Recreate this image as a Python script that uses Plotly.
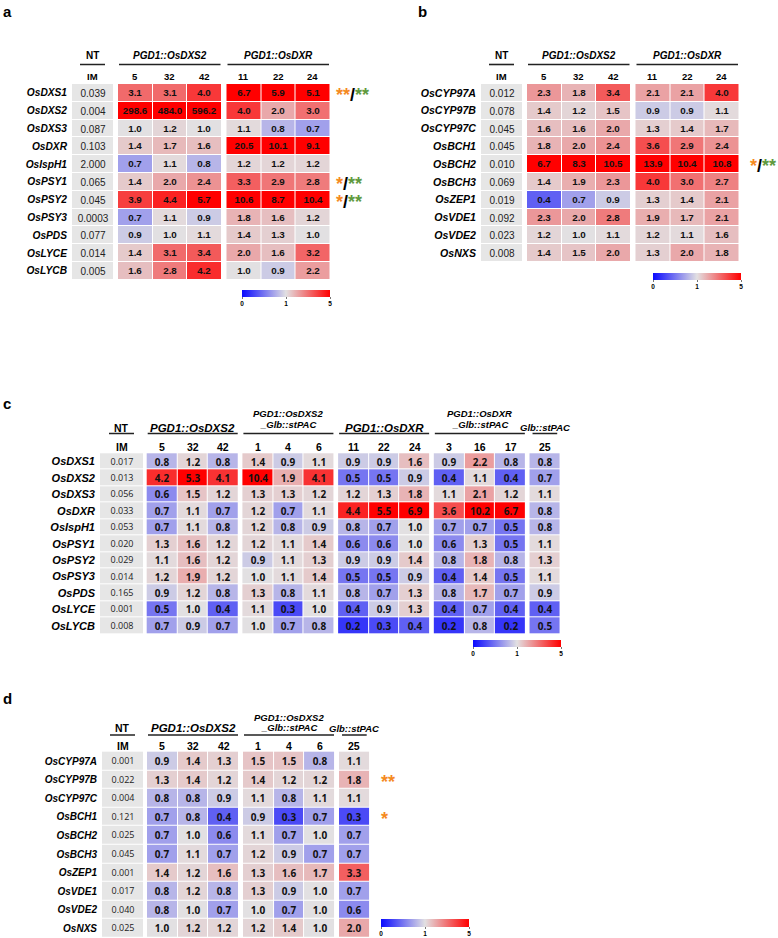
import plotly.graph_objects as go

W, H = 778, 938

# ===================== DATA =====================
# ---- panel a ----
a_genes = ["OsDXS1", "OsDXS2", "OsDXS3", "OsDXR", "OsIspH1", "OsPSY1",
           "OsPSY2", "OsPSY3", "OsPDS", "OsLYCE", "OsLYCB"]
a_nt_im = [0.039, 0.004, 0.087, 0.103, 2.000, 0.065, 0.045, 0.0003, 0.077, 0.014, 0.005]
a_dxs2_lines = ["5", "32", "42"]
a_dxs2 = [[3.1, 3.1, 4.0], [298.6, 484.0, 596.2], [1.0, 1.2, 1.0], [1.4, 1.7, 1.6],
          [0.7, 1.1, 0.8], [1.4, 2.0, 2.4], [3.9, 4.4, 5.7], [0.7, 1.1, 0.9],
          [0.9, 1.0, 1.1], [1.4, 3.1, 3.4], [1.6, 2.8, 4.2]]
a_dxr_lines = ["11", "22", "24"]
a_dxr = [[6.7, 5.9, 5.1], [4.0, 2.0, 3.0], [1.1, 0.8, 0.7], [20.5, 10.1, 9.1],
         [1.2, 1.2, 1.2], [3.3, 2.9, 2.8], [10.6, 8.7, 10.4], [1.8, 1.6, 1.2],
         [1.4, 1.3, 1.0], [2.0, 1.6, 3.2], [1.0, 0.9, 2.2]]
a_stars = {0: ("**", "**"), 5: ("*", "**"), 6: ("*", "**")}

# ---- panel b ----
b_genes = ["OsCYP97A", "OsCYP97B", "OsCYP97C", "OsBCH1", "OsBCH2", "OsBCH3",
           "OsZEP1", "OsVDE1", "OsVDE2", "OsNXS"]
b_nt_im = [0.012, 0.078, 0.045, 0.045, 0.010, 0.069, 0.019, 0.092, 0.023, 0.008]
b_dxs2_lines = ["5", "32", "42"]
b_dxs2 = [[2.3, 1.8, 3.4], [1.4, 1.2, 1.5], [1.6, 1.6, 2.0], [1.8, 2.0, 2.4],
          [6.7, 8.3, 10.5], [1.4, 1.9, 2.3], [0.4, 0.7, 0.9], [2.3, 2.0, 2.8],
          [1.2, 1.0, 1.1], [1.4, 1.5, 2.0]]
b_dxr_lines = ["11", "22", "24"]
b_dxr = [[2.1, 2.1, 4.0], [0.9, 0.9, 1.1], [1.3, 1.4, 1.7], [3.6, 2.9, 2.4],
         [13.9, 10.4, 10.8], [4.0, 3.0, 2.7], [1.3, 1.4, 2.1], [1.9, 1.7, 2.1],
         [1.2, 1.1, 1.6], [1.3, 2.0, 1.8]]
b_stars = {4: ("*", "**")}

# ---- panel c ----
c_genes = a_genes
c_nt_im = [0.017, 0.013, 0.056, 0.033, 0.053, 0.020, 0.029, 0.014, 0.165, 0.001, 0.008]
c_dxs2_lines = ["5", "32", "42"]
c_dxs2 = [[0.8, 1.2, 0.8], [4.2, 5.3, 4.1], [0.6, 1.5, 1.2], [0.7, 1.1, 0.7],
          [0.7, 1.1, 0.8], [1.3, 1.6, 1.2], [1.1, 1.6, 1.2], [1.2, 1.9, 1.2],
          [0.9, 1.2, 0.8], [0.5, 1.0, 0.4], [0.7, 0.9, 0.7]]
c_dxs2pac_lines = ["1", "4", "6"]
c_dxs2pac = [[1.4, 0.9, 1.1], [10.4, 1.9, 4.1], [1.3, 1.3, 1.2], [1.2, 0.7, 1.1],
             [1.2, 0.8, 0.9], [1.2, 1.1, 1.4], [0.9, 1.1, 1.3], [1.0, 1.1, 1.4],
             [1.3, 0.8, 1.1], [1.1, 0.3, 1.0], [1.0, 0.7, 0.8]]
c_dxr_lines = ["11", "22", "24"]
c_dxr = [[0.9, 0.9, 1.6], [0.5, 0.5, 0.9], [1.2, 1.3, 1.8], [4.4, 5.5, 6.9],
         [0.8, 0.7, 1.0], [0.6, 0.6, 1.0], [0.9, 0.9, 1.4], [0.5, 0.5, 0.9],
         [0.8, 0.7, 1.3], [0.4, 0.9, 1.3], [0.2, 0.3, 0.4]]
c_dxrpac_lines = ["3", "16", "17"]
c_dxrpac = [[0.9, 2.2, 0.8], [0.4, 1.1, 0.4], [1.1, 2.1, 1.2], [3.6, 10.2, 6.7],
            [0.7, 0.7, 0.5], [0.6, 1.3, 0.5], [0.8, 1.8, 0.8], [0.4, 1.4, 0.5],
            [0.8, 1.7, 0.7], [0.4, 0.7, 0.4], [0.2, 0.8, 0.2]]
c_pac_lines = ["25"]
c_pac = [[0.8], [0.7], [1.1], [0.8], [0.8], [1.1], [1.3], [1.1], [0.9], [0.4], [0.5]]

# ---- panel d ----
d_genes = b_genes
d_nt_im = [0.001, 0.022, 0.004, 0.121, 0.025, 0.045, 0.001, 0.017, 0.040, 0.025]
d_dxs2_lines = ["5", "32", "42"]
d_dxs2 = [[0.9, 1.4, 1.3], [1.3, 1.4, 1.2], [0.8, 0.8, 0.9], [0.7, 0.8, 0.4],
          [0.7, 1.0, 0.6], [0.7, 1.1, 0.7], [1.4, 1.2, 1.6], [0.8, 1.2, 0.8],
          [0.8, 1.0, 0.7], [1.0, 1.2, 1.2]]
d_dxs2pac_lines = ["1", "4", "6"]
d_dxs2pac = [[1.5, 1.5, 0.8], [1.4, 1.2, 1.2], [1.1, 0.8, 1.1], [0.9, 0.3, 0.7],
             [1.1, 0.7, 1.0], [1.2, 0.9, 0.7], [1.3, 1.6, 1.7], [1.3, 0.9, 1.0],
             [1.0, 0.7, 1.0], [1.2, 1.4, 1.0]]
d_pac_lines = ["25"]
d_pac = [[1.1], [1.8], [1.1], [0.3], [0.7], [0.7], [3.3], [0.7], [0.6], [2.0]]
d_stars = {1: ("**", None), 3: ("*", None)}

# colour scale key: 0 (blue) - 1 (grey) - 5 (red)
scale_ticks = [0, 1, 5]

# ===================== STYLE =====================
ARIAL = "Liberation Sans, Arial, sans-serif"
OPEN = "Open Sans, Liberation Sans, sans-serif"
NT_GRAY = "#e6e6e6"
ORANGE = "#f58a1f"
GREEN = "#5f9a3e"
CSCALE = [[0.0, "rgb(10,10,255)"], [0.5, "rgb(226,224,226)"], [1.0, "rgb(255,0,0)"]]


def tz(v):
    """map fold-change onto the piece-wise linear colour key (0-1 | 1-5)."""
    return v if v <= 1 else 1 + (min(v, 5) - 1) / 4


def fmt_nt(v):
    return f"{v:.4f}" if v < 0.001 else f"{v:.3f}"


specs = [
    dict(letter="a", letter_xy=(1, 1), genes=a_genes, nt=a_nt_im,
         groups=[(["PGD1::OsDXS2"], a_dxs2_lines, a_dxs2),
                 (["PGD1::OsDXR"], a_dxr_lines, a_dxr)],
         stars=a_stars, star_px=334,
         left=72, top=84, row_h=17.8, nt_w=41, cell_w=34.5, gap=5, extra=60,
         hdr_top=44, num_y=77, name_y=56, name2=(50, 61), line_y=64.5,
         cb=(242, 290, 88, 7),
         f_gene=10.2, f_name=10, f_name2=9.5, f_num=9.5, f_cell=9.8, f_nt=10,
         cell_font=ARIAL, nt_font=ARIAL),
    dict(letter="b", letter_xy=(416, 1), genes=b_genes, nt=b_nt_im,
         groups=[(["PGD1::OsDXS2"], b_dxs2_lines, b_dxs2),
                 (["PGD1::OsDXR"], b_dxr_lines, b_dxr)],
         stars=b_stars, star_px=748,
         left=481, top=84, row_h=17.8, nt_w=41, cell_w=34.5, gap=5, extra=39,
         hdr_top=44, num_y=77, name_y=56, name2=(50, 61), line_y=64.5,
         cb=(653, 273, 88, 7),
         f_gene=10.6, f_name=10, f_name2=9.5, f_num=9.5, f_cell=9.8, f_nt=10,
         cell_font=ARIAL, nt_font=ARIAL),
    dict(letter="c", letter_xy=(1, 393), genes=c_genes, nt=c_nt_im,
         groups=[(["PGD1::OsDXS2"], c_dxs2_lines, c_dxs2),
                 (["PGD1::OsDXS2", "_Glb::stPAC"], c_dxs2pac_lines, c_dxs2pac),
                 (["PGD1::OsDXR"], c_dxr_lines, c_dxr),
                 (["PGD1::OsDXR", "_Glb::stPAC"], c_dxrpac_lines, c_dxrpac),
                 (["Glb::stPAC"], c_pac_lines, c_pac)],
         stars={}, star_px=570,
         left=100, top=453.3, row_h=16.43, nt_w=43, cell_w=30.67, gap=3.7, extra=20,
         hdr_top=404, num_y=446.7, name_y=427.5, name2=(413.5, 424), line_y=433.5,
         cb=(473, 640, 88, 7),
         f_gene=11, f_name=11.5, f_name2=9.5, f_num=10.5, f_cell=10, f_nt=9,
         cell_font=OPEN, nt_font=OPEN),
    dict(letter="d", letter_xy=(1, 688), genes=d_genes, nt=d_nt_im,
         groups=[(["PGD1::OsDXS2"], d_dxs2_lines, d_dxs2),
                 (["PGD1::OsDXS2", "_Glb::stPAC"], d_dxs2pac_lines, d_dxs2pac),
                 (["Glb::stPAC"], d_pac_lines, d_pac)],
         stars=d_stars, star_px=379,
         left=102, top=751.7, row_h=18.6, nt_w=41, cell_w=30.67, gap=4, extra=40,
         hdr_top=708, num_y=746, name_y=728, name2=(717, 727.5), line_y=735,
         cb=(381, 919, 88, 8),
         f_gene=10, f_name=11.5, f_name2=9.5, f_num=10.5, f_cell=10, f_nt=9,
         cell_font=OPEN, nt_font=OPEN),
]

fig = go.Figure()
annotations, shapes, layout_axes = [], [], {}

for k, sp in enumerate(specs, start=1):
    sfx = "" if k == 1 else str(k)
    xref, yref, cax = "x" + sfx, "y" + sfx, "coloraxis" + sfx
    n = len(sp["genes"])
    rows = list(range(n))
    top, rh = sp["top"], sp["row_h"]

    def ydat(px, top=top, rh=rh):
        return (px - top) / rh - 0.5

    def hdr_name(lines, xc, italic=True):
        def fmt(s):
            return f"<b><i>{s}</i></b>" if italic else f"<b>{s}</b>"
        if len(lines) == 1:
            if not italic:
                size = min(sp["f_name"], 10.5)
            elif lines[0].startswith("PGD1"):
                size = sp["f_name"]
            else:
                size = sp["f_name2"]
            annotations.append(dict(x=xc, y=ydat(sp["name_y"]), xref=xref, yref=yref,
                                    text=fmt(lines[0]), showarrow=False,
                                    font=dict(family=ARIAL, size=size, color="black")))
        else:
            for ln, ypx in zip(lines, sp["name2"]):
                annotations.append(dict(x=xc, y=ydat(ypx), xref=xref, yref=yref,
                                        text=fmt(ln), showarrow=False,
                                        font=dict(family=ARIAL, size=sp["f_name2"],
                                                  color="black")))

    def underline(x0, x1):
        shapes.append(dict(type="line", xref=xref, yref=yref, x0=x0, x1=x1,
                           y0=ydat(sp["line_y"]), y1=ydat(sp["line_y"]),
                           line=dict(color="#222222", width=1.6)))

    # ---- NT (IM) reference column ----
    nt_w = sp["nt_w"]
    fig.add_trace(go.Heatmap(
        x=[0, nt_w], y=rows, z=[[0] for _ in rows],
        text=[[fmt_nt(v)] for v in sp["nt"]], texttemplate="%{text}",
        textfont=dict(family=sp["nt_font"], size=sp["f_nt"], color="#222222"),
        colorscale=[[0, NT_GRAY], [1, NT_GRAY]], showscale=False,
        xgap=0, ygap=1, hoverinfo="skip", xaxis=xref, yaxis=yref))
    annotations.append(dict(x=nt_w / 2, y=ydat(sp["num_y"]), xref=xref, yref=yref,
                            text="<b>IM</b>", showarrow=False,
                            font=dict(family=ARIAL, size=sp["f_num"], color="black")))
    hdr_name(["NT"], nt_w / 2, italic=False)
    ul = min(25, nt_w - 4)
    underline(nt_w / 2 - ul / 2, nt_w / 2 + ul / 2)

    # ---- transgenic line groups ----
    pos = nt_w + sp["gap"]
    cw = sp["cell_w"]
    for names, lines, mat in sp["groups"]:
        ncol = len(lines)
        edges = [pos + i * cw for i in range(ncol + 1)]
        fig.add_trace(go.Heatmap(
            x=edges, y=rows,
            z=[[tz(v) for v in row] for row in mat],
            text=[[f"{v:.1f}" for v in row] for row in mat], texttemplate="%{text}",
            textfont=dict(family=sp["cell_font"], size=sp["f_cell"], color="#111111",
                          weight="bold"),
            coloraxis=cax, xgap=1, ygap=1, hoverinfo="skip",
            xaxis=xref, yaxis=yref))
        for i, ln in enumerate(lines):
            annotations.append(dict(x=edges[i] + cw / 2, y=ydat(sp["num_y"]), xref=xref,
                                    yref=yref, text=f"<b>{ln}</b>", showarrow=False,
                                    font=dict(family=ARIAL, size=sp["f_num"], color="black")))
        xc = (edges[0] + edges[-1]) / 2
        hdr_name(names, xc)
        if ncol == 1:
            underline(xc - min(25, cw - 6) / 2, xc + min(25, cw - 6) / 2)
        else:
            underline(edges[0] + 1, edges[-1] - 1)
        pos = edges[-1] + sp["gap"]

    total = pos - sp["gap"]
    xmax = total + sp["extra"]

    # ---- significance marks ----
    for r, (s1, s2) in sp["stars"].items():
        txt = f'<span style="color:{ORANGE}">{s1}</span>'
        if s2:
            txt += ('<span style="color:black;font-size:18px"><b>/</b></span>'
                    f'<span style="color:{GREEN}">{s2}</span>')
        annotations.append(dict(x=sp["star_px"] - sp["left"], y=r, xref=xref, yref=yref,
                                xanchor="left", yanchor="middle", yshift=-2,
                                text=f"<b>{txt}</b>", showarrow=False,
                                font=dict(family=ARIAL, size=18, color=ORANGE)))

    # ---- panel letter ----
    lx, ly = sp["letter_xy"]
    annotations.append(dict(x=lx / W, y=1 - ly / H, xref="paper", yref="paper",
                            xanchor="left", yanchor="top", showarrow=False,
                            text=f"<b>{sp['letter']}</b>",
                            font=dict(family=ARIAL, size=15, color="black")))

    # ---- axes ----
    bottom_px = top + n * rh
    layout_axes["xaxis" + sfx] = dict(
        domain=[sp["left"] / W, min(1, (sp["left"] + xmax) / W)],
        range=[0, xmax], anchor=yref, showgrid=False, zeroline=False,
        showticklabels=False, ticks="", showline=False, fixedrange=True)
    layout_axes["yaxis" + sfx] = dict(
        domain=[max(0, 1 - bottom_px / H), 1 - sp["hdr_top"] / H],
        range=[n - 0.5, ydat(sp["hdr_top"])], anchor=xref,
        tickvals=rows, ticktext=[f"<b><i>{g}</i></b>" for g in sp["genes"]],
        tickfont=dict(family=ARIAL, size=sp["f_gene"], color="black"),
        ticks="", ticklabelstandoff=4, showgrid=False, zeroline=False,
        showline=False, fixedrange=True)

    # ---- colour key ----
    cbx, cby, cbl, cbt = sp["cb"]
    layout_axes[cax] = dict(
        colorscale=CSCALE, cmin=0, cmax=2,
        colorbar=dict(orientation="h", x=cbx / W, xanchor="left",
                      y=1 - cby / H, yanchor="top", len=cbl, lenmode="pixels",
                      thickness=cbt, outlinewidth=0, xpad=0, ypad=0,
                      tickvals=[tz(t) for t in scale_ticks],
                      ticktext=[str(t) for t in scale_ticks],
                      ticks="outside", ticklen=2, tickcolor="#777777", tickwidth=1,
                      tickfont=dict(family=ARIAL, size=6.5, color="black", weight="bold")))

fig.update_layout(
    width=W, height=H, margin=dict(l=0, r=0, t=0, b=0),
    paper_bgcolor="white", plot_bgcolor="white", showlegend=False,
    annotations=annotations, shapes=shapes, **layout_axes)

fig.write_html("out.html", config={"displayModeBar": False},
               post_script="document.body.style.margin='0px';"
                           "document.body.style.padding='0px';"
                           "document.body.style.overflow='hidden';")
